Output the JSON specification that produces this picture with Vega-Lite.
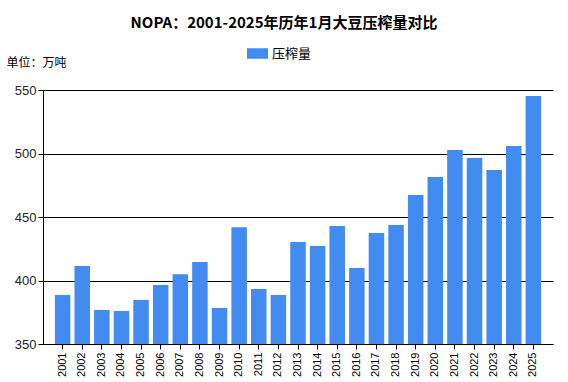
{
  "$schema": "https://vega.github.io/schema/vega-lite/v6.json",
  "width": 510,
  "height": 254,
  "autosize": "none",
  "padding": {"left": 43, "top": 90, "right": 15, "bottom": 38},
  "background": "white",
  "config": {"view": {"stroke": null}},
  "title": {
    "text": "NOPA：2001-2025年历年1月大豆压榨量对比",
    "font": "Noto Sans CJK SC",
    "fontSize": 15,
    "fontWeight": "bold",
    "color": "#000000",
    "anchor": "middle",
    "frame": "group",
    "dx": -14,
    "offset": 12
  },
  "data": {
    "values": [
      {"year": "2001", "value": 388.6, "series": "压榨量"},
      {"year": "2002", "value": 411.4, "series": "压榨量"},
      {"year": "2003", "value": 376.8, "series": "压榨量"},
      {"year": "2004", "value": 376.0, "series": "压榨量"},
      {"year": "2005", "value": 384.6, "series": "压榨量"},
      {"year": "2006", "value": 396.5, "series": "压榨量"},
      {"year": "2007", "value": 405.0, "series": "压榨量"},
      {"year": "2008", "value": 414.6, "series": "压榨量"},
      {"year": "2009", "value": 378.3, "series": "压榨量"},
      {"year": "2010", "value": 442.0, "series": "压榨量"},
      {"year": "2011", "value": 393.3, "series": "压榨量"},
      {"year": "2012", "value": 388.6, "series": "压榨量"},
      {"year": "2013", "value": 430.3, "series": "压榨量"},
      {"year": "2014", "value": 427.2, "series": "压榨量"},
      {"year": "2015", "value": 442.9, "series": "压榨量"},
      {"year": "2016", "value": 409.8, "series": "压榨量"},
      {"year": "2017", "value": 437.4, "series": "压榨量"},
      {"year": "2018", "value": 443.7, "series": "压榨量"},
      {"year": "2019", "value": 467.3, "series": "压榨量"},
      {"year": "2020", "value": 481.5, "series": "压榨量"},
      {"year": "2021", "value": 502.8, "series": "压榨量"},
      {"year": "2022", "value": 496.5, "series": "压榨量"},
      {"year": "2023", "value": 487.0, "series": "压榨量"},
      {"year": "2024", "value": 505.9, "series": "压榨量"},
      {"year": "2025", "value": 545.3, "series": "压榨量"}
    ]
  },
  "mark": {"type": "bar", "clip": true},
  "encoding": {
    "x": {
      "field": "year",
      "type": "ordinal",
      "scale": {"paddingInner": 0.21, "paddingOuter": 0.605},
      "axis": {
        "title": null,
        "labelAngle": -90,
        "labelAlign": "right",
        "labelBaseline": "middle",
        "labelFont": "Liberation Sans",
        "labelFontSize": 11,
        "labelColor": "#000000",
        "labelPadding": 3,
        "tickColor": "#000000",
        "tickSize": 5,
        "domainColor": "#000000",
        "grid": false
      }
    },
    "y": {
      "field": "value",
      "type": "quantitative",
      "scale": {"domain": [350, 550], "zero": false, "nice": false},
      "axis": {
        "values": [350, 400, 450, 500, 550],
        "title": "单位：万吨",
        "titleFont": "Noto Sans CJK SC",
        "titleFontSize": 12,
        "titleFontWeight": "normal",
        "titleColor": "#000000",
        "titleAngle": 0,
        "titleAlign": "left",
        "titleBaseline": "middle",
        "titleX": -37,
        "titleY": -28,
        "labelFont": "Liberation Sans",
        "labelFontSize": 13,
        "labelColor": "#222222",
        "labelPadding": 2,
        "tickColor": "#000000",
        "tickSize": 5,
        "domainColor": "#000000",
        "grid": true,
        "gridColor": "#000000",
        "gridOpacity": 1
      }
    },
    "color": {
      "field": "series",
      "type": "nominal",
      "scale": {"range": ["#428bf0"]},
      "legend": {
        "title": null,
        "orient": "none",
        "legendX": 204,
        "legendY": -47,
        "padding": 0,
        "symbolType": "M-1,-0.5h2v1h-2z",
        "symbolSize": 441,
        "symbolStrokeWidth": 0,
        "symbolOpacity": 1,
        "labelFont": "Noto Sans CJK SC",
        "labelFontSize": 13,
        "labelColor": "#000000",
        "labelOffset": 4
      }
    }
  }
}
